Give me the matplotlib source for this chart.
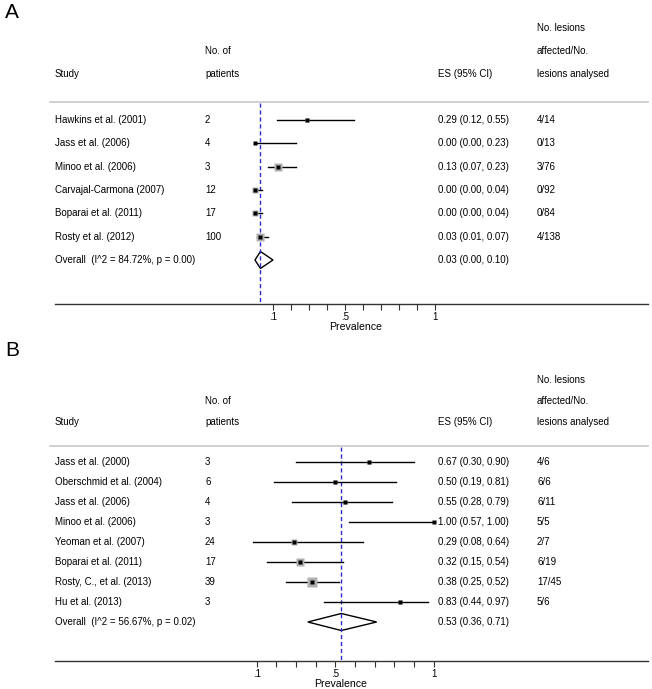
import matplotlib
matplotlib.use("Agg")
import matplotlib.pyplot as plt
from matplotlib.patches import Polygon

plt.rcParams['font.family'] = ['Liberation Sans', 'DejaVu Sans']

# panel A data
studies_a = ["Hawkins et al. (2001)", "Jass et al. (2006)", "Minoo et al. (2006)",
             "Carvajal-Carmona (2007)", "Boparai et al. (2011)", "Rosty et al. (2012)"]
patients_a = ["2", "4", "3", "12", "17", "100"]
es_a = [0.29, 0.00, 0.13, 0.00, 0.00, 0.03]
lo_a = [0.12, 0.00, 0.07, 0.00, 0.00, 0.01]
hi_a = [0.55, 0.23, 0.23, 0.04, 0.04, 0.07]
lesions_a = ["4/14", "0/13", "3/76", "0/92", "0/84", "4/138"]
weights_a = [3, 1, 6, 5, 5, 6]
overall_a = (0.03, 0.00, 0.10)
overall_lab_a = "Overall  (I^2 = 84.72%, p = 0.00)"

# panel B data
studies_b = ["Jass et al. (2000)", "Oberschmid et al. (2004)", "Jass et al. (2006)",
             "Minoo et al. (2006)", "Yeoman et al. (2007)", "Boparai et al. (2011)",
             "Rosty, C., et al. (2013)", "Hu et al. (2013)"]
patients_b = ["3", "6", "4", "3", "24", "17", "39", "3"]
es_b = [0.67, 0.50, 0.55, 1.00, 0.29, 0.32, 0.38, 0.83]
lo_b = [0.30, 0.19, 0.28, 0.57, 0.08, 0.15, 0.25, 0.44]
hi_b = [0.90, 0.81, 0.79, 1.00, 0.64, 0.54, 0.52, 0.97]
lesions_b = ["4/6", "6/6", "6/11", "5/5", "2/7", "6/19", "17/45", "5/6"]
weights_b = [3, 3, 3, 2, 5, 6, 7, 3]
overall_b = (0.53, 0.36, 0.71)
overall_lab_b = "Overall  (I^2 = 56.67%, p = 0.02)"

ticks = [0.1, 0.2, 0.3, 0.4, 0.5, 0.6, 0.7, 0.8, 0.9, 1.0]
tick_labels = [".1", "", "", "", ".5", "", "", "", "", "1"]

W, H = 652, 689
fig = plt.figure(figsize=(W / 100, H / 100), dpi=100)

# overlay in pixel coordinates for text columns
ov = fig.add_axes([0, 0, 1, 1])
ov.set_xlim(0, W)
ov.set_ylim(H, 0)
ov.axis('off')

fs = 7.0
BLUE = '#2b2bd0'
X_STUDY, X_PAT, X_ES, X_LES = 55, 205, 438, 537


def panel(letter, top, hdr_y, sep_y, row0, step, axis_y, zero_px, unit_px,
          studies, patients, es, lo, hi, lesions, weights, overall, overall_lab, prev_x):
    ov.text(5, top, letter, fontsize=15, va='center', ha='left')
    # headers
    ov.text(X_LES, hdr_y[0], "No. lesions", fontsize=fs, va='center')
    ov.text(X_PAT, hdr_y[1], "No. of", fontsize=fs, va='center')
    ov.text(X_LES, hdr_y[1], "affected/No.", fontsize=fs, va='center')
    ov.text(X_STUDY, hdr_y[2], "Study", fontsize=fs, va='center')
    ov.text(X_PAT, hdr_y[2], "patients", fontsize=fs, va='center')
    ov.text(X_ES, hdr_y[2], "ES (95% CI)", fontsize=fs, va='center')
    ov.text(X_LES, hdr_y[2], "lesions analysed", fontsize=fs, va='center')
    ov.plot([50, 648], [sep_y, sep_y], color='#c8c8c8', lw=1.2)

    n = len(studies)
    rows = [row0 + i * step for i in range(n + 1)]
    for i in range(n):
        ov.text(X_STUDY, rows[i], studies[i], fontsize=fs, va='center')
        ov.text(X_PAT, rows[i], patients[i], fontsize=fs, va='center')
        ov.text(X_ES, rows[i], "%.2f (%.2f, %.2f)" % (es[i], lo[i], hi[i]), fontsize=fs, va='center')
        ov.text(X_LES, rows[i], lesions[i], fontsize=fs, va='center')
    ov.text(X_STUDY, rows[n], overall_lab, fontsize=fs, va='center')
    ov.text(X_ES, rows[n], "%.2f (%.2f, %.2f)" % overall, fontsize=fs, va='center')

    # value axes: x in prevalence units, y in pixels
    left_px, right_px = 55, 648
    ax = fig.add_axes([left_px / W, (H - axis_y) / H, (right_px - left_px) / W, (axis_y - sep_y) / H])
    ax.set_xlim((left_px - zero_px) / unit_px, (right_px - zero_px) / unit_px)
    ax.set_ylim(axis_y, sep_y)
    ax.patch.set_alpha(0)
    for s in ['top', 'right', 'left']:
        ax.spines[s].set_visible(False)
    ax.spines['bottom'].set_linewidth(1.0)
    ax.spines['bottom'].set_color('#333333')
    ax.set_yticks([])
    ax.set_xticks(ticks)
    ax.set_xticklabels(tick_labels)
    ax.tick_params(axis='x', length=4, width=0.8, pad=1.5, labelsize=fs, color='#333333')

    ax.plot([overall[0], overall[0]], [sep_y + 1, axis_y], color=BLUE, lw=1.0,
            linestyle=(0, (3, 2)))
    for i in range(n):
        y = rows[i]
        ax.plot([lo[i], hi[i]], [y, y], color='black', lw=1.0)
        ax.plot(es[i], y, marker='s', ms=weights[i], color='#b0b0b0', mec='none')
        ax.plot(es[i], y, marker='s', ms=2.2, color='black', mec='none')
    yo = rows[n]
    dh = 8.5
    d = Polygon([[overall[1], yo], [overall[0], yo - dh], [overall[2], yo], [overall[0], yo + dh]],
                closed=True, fill=False, edgecolor='black', lw=1.0)
    ax.add_patch(d)
    ov.text(prev_x, axis_y + 23, "Prevalence", fontsize=7.6, ha='center', va='center')


panel("A", 13, [28, 51, 74], 102, 120, 23.33, 304, 255, 180,
      studies_a, patients_a, es_a, lo_a, hi_a, lesions_a, weights_a, overall_a, overall_lab_a, 356)
panel("B", 350, [380, 401, 422], 446, 462, 20, 661, 237, 196.7,
      studies_b, patients_b, es_b, lo_b, hi_b, lesions_b, weights_b, overall_b, overall_lab_b, 341)

fig.savefig("out.png", dpi=100)
